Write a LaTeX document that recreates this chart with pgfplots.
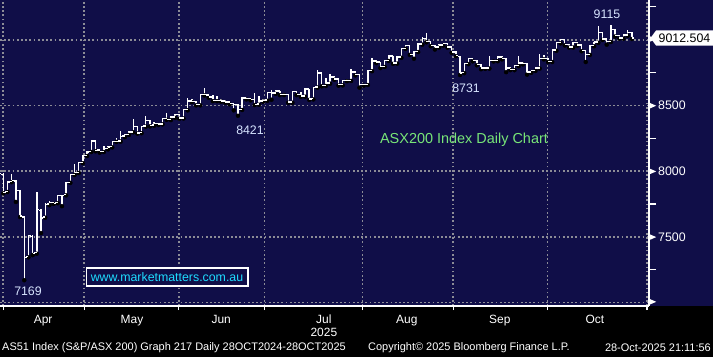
\documentclass[border=0pt]{standalone}
\usepackage{fontspec}
\setmainfont{Liberation Sans}
\usepackage{pgfplots}
\pgfplotsset{compat=1.18}
\usepackage{pgfplotstable}
\definecolor{navy}{RGB}{16,14,72}
\definecolor{gridc}{RGB}{140,140,150}
\definecolor{annot}{RGB}{215,228,255}
\definecolor{lgreen}{RGB}{120,230,120}
\definecolor{wcyan}{RGB}{30,220,255}
\pgfplotstableread{
x o h l c
-1 7990 8000 7975 7983
0 7975 7985 7830 7838
1 7845 7925 7840 7917
2 7920 7975 7915 7929
3 7925 7930 7765 7853
4 7850 7855 7650 7658
5 7650 7660 7169 7343
6 7350 7511 7343 7508
7 7500 7511 7360 7371
8 7380 7838 7371 7706
9 7700 7712 7528 7644
10 7650 7760 7645 7747
11 7750 7772 7740 7760
12 7760 7768 7750 7755
13 7760 7820 7755 7815
14 7815 7820 7733 7816
15 7820 7916 7815 7912
16 7915 7975 7910 7972
17 7975 8051 7970 7988
18 7990 8070 7985 8064
19 8064 8125 8060 8119
20 8120 8150 8115 8145
21 8150 8235 8145 8228
22 8228 8232 8150 8158
23 8160 8165 8140 8150
24 8150 8190 8145 8170
25 8172 8190 8165 8183
26 8185 8232 8180 8226
27 8226 8252 8222 8226
28 8228 8302 8224 8264
29 8266 8285 8258 8279
30 8280 8302 8275 8297
31 8298 8393 8295 8340
32 8340 8345 8285 8290
33 8292 8345 8288 8340
34 8342 8416 8338 8386
35 8386 8390 8340 8348
36 8350 8370 8345 8362
37 8362 8366 8350 8357
38 8358 8405 8355 8399
39 8399 8444 8390 8391
40 8392 8416 8388 8411
41 8412 8436 8405 8431
42 8431 8434 8398 8403
43 8405 8472 8400 8467
44 8467 8559 8462 8533
45 8533 8545 8525 8530
46 8530 8535 8500 8505
47 8505 8585 8500 8581
48 8581 8634 8575 8581
49 8580 8590 8558 8563
50 8563 8576 8532 8538
51 8538 8568 8532 8538
52 8538 8545 8528 8533
53 8533 8538 8520 8527
54 8527 8532 8508 8513
55 8513 8518 8462 8505
56 8505 8510 8421 8467
57 8470 8562 8465 8556
58 8556 8566 8545 8551
59 8551 8556 8538 8544
60 8544 8597 8502 8508
61 8510 8568 8505 8533
62 8533 8545 8528 8538
63 8540 8605 8535 8599
64 8599 8619 8543 8594
65 8594 8615 8588 8609
66 8609 8612 8578 8584
67 8584 8592 8578 8584
68 8584 8588 8520 8525
69 8525 8610 8520 8604
70 8604 8608 8578 8584
71 8584 8604 8565 8571
72 8571 8630 8566 8624
73 8624 8628 8542 8548
74 8551 8640 8545 8635
75 8640 8772 8635 8746
76 8746 8750 8645 8652
77 8652 8711 8648 8670
78 8670 8741 8665 8715
79 8715 8720 8695 8700
80 8700 8704 8650 8657
81 8657 8696 8652 8690
82 8690 8698 8684 8690
83 8690 8775 8686 8753
84 8753 8758 8728 8733
85 8733 8736 8635 8657
86 8657 8665 8650 8657
87 8660 8772 8655 8766
88 8766 8860 8760 8837
89 8837 8842 8822 8829
90 8829 8833 8784 8796
91 8796 8848 8792 8842
92 8842 8880 8838 8875
93 8875 8879 8816 8822
94 8822 8872 8818 8867
95 8867 8940 8862 8935
96 8935 8962 8930 8955
97 8955 8958 8884 8889
98 8889 8916 8855 8911
99 8911 8972 8906 8968
100 8968 9018 8962 9011
101 9011 9050 8980 8985
102 8985 8990 8950 8955
103 8955 8962 8925 8945
104 8945 8966 8940 8960
105 8960 8975 8955 8970
106 8970 8974 8940 8945
107 8945 8948 8900 8906
108 8906 8910 8875 8880
109 8870 8876 8731 8745
110 8750 8824 8745 8818
111 8818 8862 8814 8856
112 8856 8860 8835 8840
113 8840 8845 8805 8810
114 8810 8814 8775 8785
115 8785 8792 8778 8785
116 8785 8875 8780 8840
117 8840 8846 8834 8840
118 8840 8873 8836 8868
119 8868 8872 8850 8856
120 8856 8860 8753 8785
121 8785 8790 8768 8773
122 8773 8808 8768 8803
123 8803 8875 8798 8823
124 8823 8828 8812 8818
125 8818 8822 8734 8753
126 8753 8772 8748 8766
127 8766 8790 8762 8784
128 8784 8893 8780 8855
129 8855 8886 8850 8858
130 8858 8863 8830 8835
131 8835 8925 8830 8920
132 8920 8982 8915 8977
133 8977 9008 8972 9002
134 9002 9005 8956 8962
135 8962 8966 8940 8945
136 8945 8982 8940 8977
137 8977 8980 8955 8960
138 8960 8963 8912 8918
139 8918 8922 8830 8889
140 8889 8961 8884 8956
141 8956 8986 8950 8981
142 8981 9105 8976 9054
143 9054 9058 8998 9005
144 9005 9010 8962 8987
145 8987 9115 8982 9079
146 9079 9082 9024 9030
147 9030 9035 9008 9013
148 9013 9041 9008 9036
149 9036 9071 9030 9054
150 9054 9058 9005 9012.5
}\ohlc
\newcommand{\tri}{\tikz[baseline=-0.6ex]\fill[white] (0,-2.6bp)--(6bp,0)--(0,2.6bp)--cycle;}
\begin{document}
\begin{tikzpicture}[x=1bp,y=1bp]
\fill[navy] (0,0) rectangle (713,357);
\fill[black] (0,0) rectangle (713,51);
\useasboundingbox (0,0) rectangle (713,357);
\begin{axis}[at={(0bp,51bp)}, anchor=south west, scale only axis,
  width=649bp, height=306bp,
  xmin=-0.79, xmax=154.1, ymin=6973, ymax=9302,
  axis x line*=bottom, axis y line*=right,
  axis line style={white, line width=1.2bp},
  xtick={0,19.3,41.9,62.3,85.7,107.4,129.9,153.6}, xticklabels={},
  xmajorgrids, ymajorgrids,
  major grid style={gridc, line width=1.7bp, dash pattern=on 1.7bp off 2.5bp},
  ytick={7000,7500,8000,8500,9000},
  yticklabels={\tri,{\tri\hspace{2bp}7500},{\tri\hspace{2bp}8000},{\tri\hspace{2bp}8500},\tri},
  minor ytick={7250,7750,8250,8750,9250},
  tick align=outside, major tick length=4bp, minor tick length=7bp,
  major x tick style={white, line width=1.2bp},
  major y tick style={draw=none},
  minor y tick style={white, line width=1.2bp},
  yticklabel style={anchor=west, inner sep=0pt, xshift=-3bp, text=white, font=\fontsize{12.4}{14}\selectfont},
  xticklabel style={anchor=north, inner sep=0pt, align=center, text=white, font=\fontsize{12}{13}\selectfont, yshift=-5bp},
  extra x ticks={9.5,30.7,52,76.5,96.3,118.5,141.2},
  extra x tick labels={Apr,May,Jun,{Jul\\2025},Aug,Sep,Oct},
  extra x tick style={grid=none, tick style={draw=none}},
]
\addplot[only marks, mark=none, forget plot,
  error bars/.cd, y dir=plus, y explicit, error mark=none,
  error bar style={draw=white, solid, line width=1.4bp}]
  table[x=x, y=l, y error plus expr=\thisrow{h}-\thisrow{l}] {\ohlc};
\addplot[white, only marks, mark=-, mark size=1.2bp, mark options={line width=1.4bp}]
  table[x expr=\thisrow{x}-0.28, y=o] {\ohlc};
\addplot[white, only marks, mark=-, mark size=1.2bp, mark options={line width=1.4bp}]
  table[x expr=\thisrow{x}+0.28, y=c] {\ohlc};
\end{axis}
% price tag
\fill[white] (650.5,319) -- (656,326.5) -- (713,326.5) -- (713,311.5) -- (656,311.5) -- cycle;
\node[text=black, font=\fontsize{12.4}{14}\selectfont, inner sep=0pt] at (684.5,319) {9012.504};
% annotations
\node[text=annot, font=\fontsize{12.4}{14}\selectfont] at (607,343) {9115};
\node[text=annot, font=\fontsize{12.4}{14}\selectfont] at (466,269) {8731};
\node[text=annot, font=\fontsize{12.4}{14}\selectfont] at (250,227) {8421};
\node[text=annot, font=\fontsize{12.4}{14}\selectfont] at (28,66) {7169};
\node[text=lgreen, font=\fontsize{14.5}{16}\selectfont] at (464,217) {ASX200 Index Daily Chart};
\draw[white, line width=1.5bp, fill=navy] (86.5,71) rectangle (248,89);
\node[text=wcyan, font=\fontsize{12.4}{14}\selectfont, inner sep=0pt] at (167,80) {www.marketmatters.com.au};
% footer
\node[text=white, anchor=west, inner sep=0pt, font=\fontsize{11}{12}\selectfont] at (2,9) {AS51 Index (S\&P/ASX 200) Graph 217 Daily 28OCT2024-28OCT2025};
\node[text=white, anchor=west, inner sep=0pt, font=\fontsize{11}{12}\selectfont] at (368,9) {Copyright© 2025 Bloomberg Finance L.P.};
\node[text=white, anchor=east, inner sep=0pt, font=\fontsize{11}{12}\selectfont] at (711,9) {28-Oct-2025 21:11:56};
\end{tikzpicture}
\end{document}
